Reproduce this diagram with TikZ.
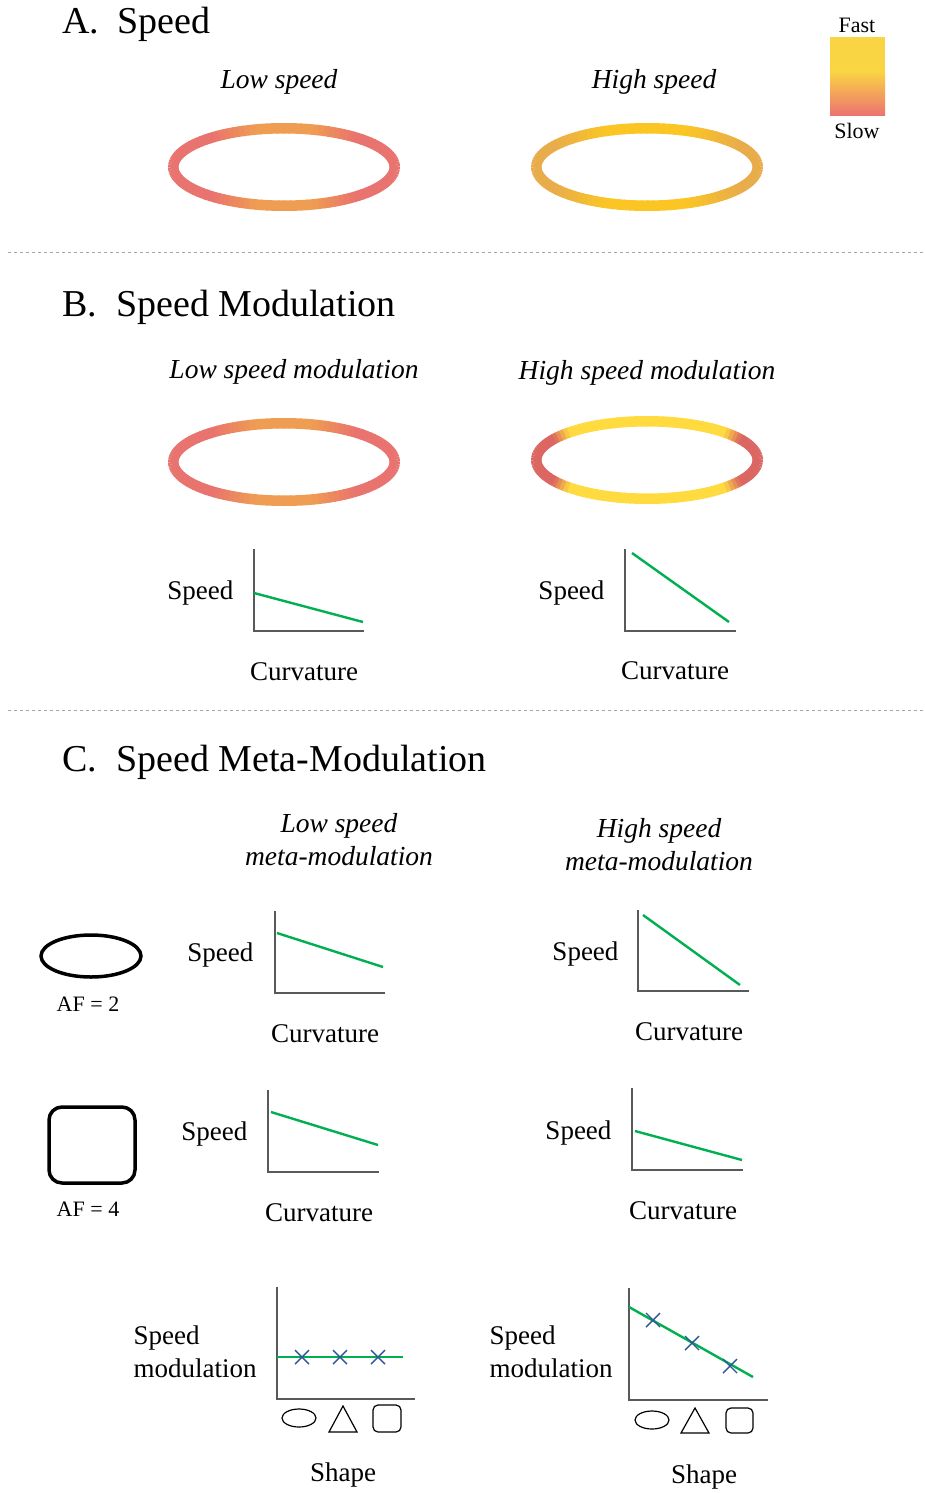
\documentclass[tikz,border=0pt]{standalone}
\usepackage{fontspec}
\setmainfont{Liberation Serif}
\usepackage{tikz}
\usetikzlibrary{calc}

\definecolor{ringred}{HTML}{E9736E}
\definecolor{ringorange}{HTML}{EF9D52}
\definecolor{hsend}{HTML}{E8AC4B}
\definecolor{hsmid}{HTML}{FBC624}
\definecolor{modred}{HTML}{DB6662}
\definecolor{modyellow}{HTML}{FFDB3F}
\definecolor{barfast}{HTML}{FAD543}
\definecolor{barmid}{HTML}{F0A152}
\definecolor{barslow}{HTML}{EC7171}
\definecolor{trendgreen}{HTML}{00B050}
\definecolor{crossblue}{HTML}{2F5597}

\tikzset{
  ring/.style={line width=10.5pt, line cap=butt},
  axis/.style={draw=black!65, line width=1.3pt},
  trend/.style={draw=trendgreen, line width=2.4pt},
  cross/.style={draw=crossblue, line width=1.4pt},
  shapeline/.style={draw=black, line width=3.5pt},
  smallshape/.style={draw=black, line width=1.2pt},
  divider/.style={draw=black!35, dashed, line width=0.8pt},
  title/.style={font=\fontsize{38}{45}\selectfont, inner sep=0pt},
  head/.style={font=\fontsize{27.5}{33}\selectfont\itshape, align=center},
  lab/.style={font=\fontsize{27}{33}\selectfont},
  small/.style={font=\fontsize{22}{26}\selectfont}
}

\begin{document}
\begin{tikzpicture}[x=1pt,y=-1pt]
\useasboundingbox (0,0) rectangle (925,1493);

% A. speed
\node[title, anchor=base west] (ta) at (62,34) {A.};
\node[title, anchor=base west] (tat) at (117,34) {Speed};
\node[head] (alow) at (279,82) {Low speed};
\node[head] (ahigh) at (654,82) {High speed};

\begin{scope}[shift={(284,167)}]
\foreach \a in {0,3,...,357} {
  \pgfmathsetmacro\p{min(100,max(0,(abs(cos(\a+1.5))-0.25)*250))}
  \colorlet{segcol}{ringred!\p!ringorange}
  \draw[ring, segcol] (\a:110.75pt and 38.75pt) arc[start angle=\a, end angle=\a+3.6, x radius=110.75pt, y radius=38.75pt];
}
\end{scope}
\begin{scope}[shift={(647,167)}]
\foreach \a in {0,3,...,357} {
  \pgfmathsetmacro\p{min(100,max(0,(abs(cos(\a+1.5))-0.35)*200))}
  \colorlet{segcol}{hsend!\p!hsmid}
  \draw[ring, segcol] (\a:110.75pt and 38.75pt) arc[start angle=\a, end angle=\a+3.6, x radius=110.75pt, y radius=38.75pt];
}
\end{scope}

% colour bar
\fill[barfast] (830,37) rectangle (885,72);
\shade[top color=barfast, middle color=barmid, bottom color=barslow] (830,71) rectangle (885,116);
\node[small] (fast) at (857,25) {Fast};
\node[small] (slow) at (857,131) {Slow};

\draw[divider] (8,252) -- (925,252);

% B. speed modulation
\node[title, anchor=base west] (tb) at (62,316) {B.};
\node[title, anchor=base west] (tbt) at (116,316) {Speed Modulation};
\node[head] (blow) at (294,372) {Low speed modulation};
\node[head] (bhigh) at (647,373) {High speed modulation};

\begin{scope}[shift={(284,462)}]
\foreach \a in {0,3,...,357} {
  \pgfmathsetmacro\p{min(100,max(0,(abs(cos(\a+1.5))-0.25)*250))}
  \colorlet{segcol}{ringred!\p!ringorange}
  \draw[ring, segcol] (\a:110.75pt and 38.75pt) arc[start angle=\a, end angle=\a+3.6, x radius=110.75pt, y radius=38.75pt];
}
\end{scope}
\begin{scope}[shift={(647,460)}]
\foreach \a in {0,3,...,357} {
  \pgfmathsetmacro\p{min(100,max(0,(abs(cos(\a+1.5))-0.7)*700))}
  \colorlet{segcol}{modred!\p!modyellow}
  \draw[ring, segcol] (\a:110.75pt and 38.75pt) arc[start angle=\a, end angle=\a+3.6, x radius=110.75pt, y radius=38.75pt];
}
\end{scope}

\draw[axis] (254,549) -- (254,631) -- (364,631);
\draw[trend] (254,593) -- (363,622);
\node[lab, anchor=east] (bls) at (237,593) {Speed};
\node[lab] (blc) at (304,672) {Curvature};

\draw[axis] (625,549) -- (625,631) -- (736,631);
\draw[trend] (632,553) -- (729,622);
\node[lab, anchor=east] (bhs) at (608,593) {Speed};
\node[lab] (bhc) at (675,671) {Curvature};

\draw[divider] (8,710) -- (925,710);

% C. speed meta-modulation
\node[title, anchor=base west] (tc) at (62,771) {C.};
\node[title, anchor=base west] (tct) at (116,771) {Speed Meta-Modulation};
\node[head] (clow) at (339,840) {Low speed\\meta-modulation};
\node[head] (chigh) at (659,845) {High speed\\meta-modulation};

\draw[shapeline] (91,956) ellipse [x radius=50, y radius=21];
\node[small] (af2) at (88,1004) {AF = 2};
\draw[shapeline, rounded corners=13pt] (49,1107) rectangle (135,1183);
\node[small] (af4) at (88,1209) {AF = 4};

\draw[axis] (275,911) -- (275,993) -- (385,993);
\draw[trend] (277,933) -- (383,967);
\node[lab, anchor=east] (c1ls) at (257,955) {Speed};
\node[lab] (c1lc) at (325,1034) {Curvature};

\draw[axis] (638,910) -- (638,991) -- (749,991);
\draw[trend] (643,915) -- (740,985);
\node[lab, anchor=east] (c1hs) at (622,954) {Speed};
\node[lab] (c1hc) at (689,1032) {Curvature};

\draw[axis] (268,1090) -- (268,1172) -- (379,1172);
\draw[trend] (271,1112) -- (378,1145);
\node[lab, anchor=east] (c2ls) at (251,1134) {Speed};
\node[lab] (c2lc) at (319,1213) {Curvature};

\draw[axis] (632,1088) -- (632,1170) -- (743,1170);
\draw[trend] (635,1131) -- (742,1160);
\node[lab, anchor=east] (c2hs) at (615,1133) {Speed};
\node[lab] (c2hc) at (683,1211) {Curvature};

% shape plots
\draw[axis] (277,1287) -- (277,1399) -- (415,1399);
\draw[trend] (277,1357) -- (403,1357);
\foreach \x in {302,340,378}
  \draw[cross] (\x-7,1350) -- (\x+7,1364) (\x-7,1364) -- (\x+7,1350);
\draw[smallshape] (299,1418) ellipse [x radius=17, y radius=9];
\draw[smallshape] (329,1432) -- (357,1432) -- (343,1406) -- cycle;
\draw[smallshape, rounded corners=5pt] (373,1405) rectangle (401,1432);
\node[lab, align=left, anchor=west] (c3lm) at (130,1352) {Speed\\modulation};
\node[lab] (c3ls) at (343,1475) {Shape};

\draw[axis] (629,1288) -- (629,1400) -- (768,1400);
\draw[trend] (629,1307) -- (753,1377);
\foreach \x/\y in {653/1320,692/1343,730/1366}
  \draw[cross] (\x-7,\y-7) -- (\x+7,\y+7) (\x-7,\y+7) -- (\x+7,\y-7);
\draw[smallshape] (652,1420) ellipse [x radius=17, y radius=9];
\draw[smallshape] (681,1433) -- (709,1433) -- (695,1408) -- cycle;
\draw[smallshape, rounded corners=5pt] (726,1408) rectangle (753,1433);
\node[lab, align=left, anchor=west] (c3hm) at (486,1352) {Speed\\modulation};
\node[lab] (c3hs) at (704,1477) {Shape};
\end{tikzpicture}
\end{document}
